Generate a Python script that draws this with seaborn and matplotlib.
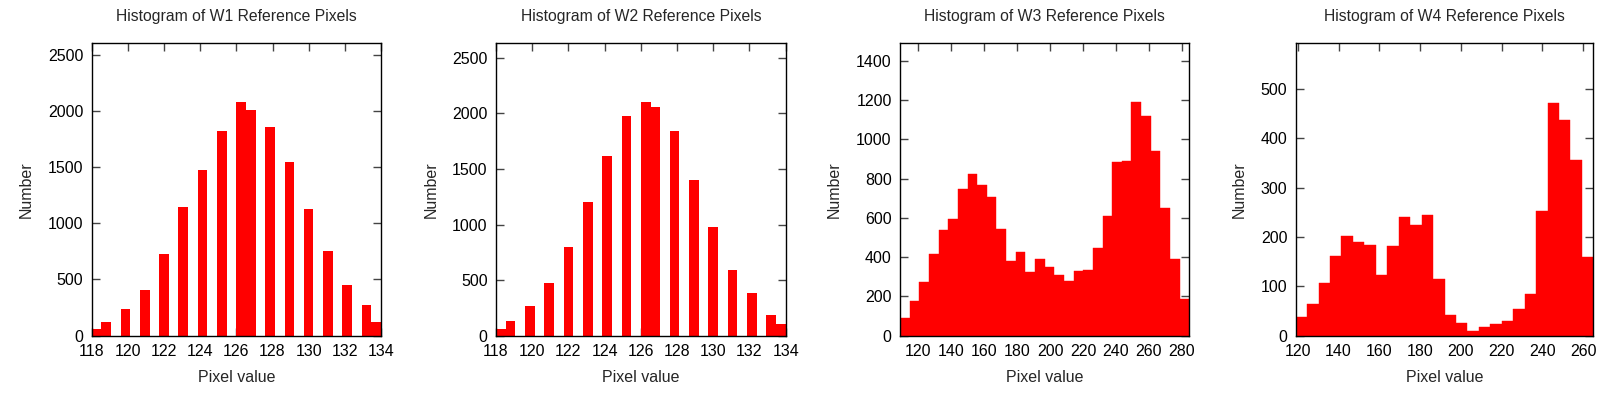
import numpy as np
import pandas as pd
import matplotlib
matplotlib.use("Agg")
import matplotlib.pyplot as plt
import seaborn as sns

# ---------------- data ----------------
# W1 / W2: integer pixel values and their counts
w12_pixels = [118, 119, 120, 121, 122, 123, 124, 125, 126, 127, 128, 129, 130, 131, 132, 133, 134]
w1_counts = [60, 120, 235, 405, 725, 1145, 1470, 1820, 2075, 2005, 1855, 1545, 1130, 750, 450, 275, 120]
w2_counts = [60, 130, 265, 475, 800, 1200, 1620, 1980, 2100, 2060, 1840, 1400, 975, 590, 380, 185, 105]
w12_range = (118, 134)
w12_nbins = 30

# W3 / W4: counts per histogram bin over the data range
w3_range = (109, 284.5)
w3_counts = [88, 177, 274, 416, 539, 595, 748, 824, 768, 707, 544, 381, 428, 325, 391,
             350, 309, 279, 330, 335, 447, 610, 887, 892, 1191, 1121, 943, 651, 393, 187]
w4_range = (119, 265)
w4_counts = [38, 64, 107, 161, 202, 189, 183, 123, 181, 241, 224, 244, 115, 42, 26,
             9, 18, 24, 30, 54, 84, 252, 472, 437, 355, 159]

titles = ["Histogram of W1 Reference Pixels", "Histogram of W2 Reference Pixels",
          "Histogram of W3 Reference Pixels", "Histogram of W4 Reference Pixels"]
x_ticks = [list(range(118, 135, 2)), list(range(118, 135, 2)),
           list(range(120, 281, 20)), list(range(120, 261, 20))]
y_ticks = [list(range(0, 2501, 500)), list(range(0, 2501, 500)),
           list(range(0, 1401, 200)), list(range(0, 501, 100))]
y_limits = [2600, 2630, 1490, 592]

# ---------------- style ----------------
sns.set_style("ticks")
plt.rcParams["font.family"] = ["Liberation Sans", "DejaVu Sans"]

fig = plt.figure(figsize=(16.19, 3.99), dpi=100)
W, H = 1619, 399
boxes = [(91.7, 381.0), (496.0, 785.7), (900.0, 1189.3), (1295.7, 1593.3)]
top_px, bot_px = 43.3, 335.7

bar_color = "#ff0000"


def binned_frame(lo, hi, counts):
    edges = np.linspace(lo, hi, len(counts) + 1)
    centers = (edges[:-1] + edges[1:]) / 2
    return pd.DataFrame({"x": centers, "n": counts})


for i in range(4):
    l, r = boxes[i]
    ax = fig.add_axes([l / W, 1 - bot_px / H, (r - l) / W, (bot_px - top_px) / H])
    if i < 2:
        counts = w1_counts if i == 0 else w2_counts
        df = pd.DataFrame({"x": w12_pixels, "n": counts})
        sns.histplot(data=df, x="x", weights="n", bins=w12_nbins, binrange=w12_range,
                     color=bar_color, alpha=1, linewidth=0, ax=ax)
        ax.set_xlim(*w12_range)
    else:
        lo, hi = (w3_range if i == 2 else w4_range)
        counts = w3_counts if i == 2 else w4_counts
        df = binned_frame(lo, hi, counts)
        sns.histplot(data=df, x="x", weights="n", bins=len(counts), binrange=(lo, hi),
                     color=bar_color, alpha=1, edgecolor=bar_color, linewidth=0.3, ax=ax)
        ax.set_xlim(lo, hi)
    ax.set_ylim(0, y_limits[i])
    ax.set_xticks(x_ticks[i])
    ax.set_yticks(y_ticks[i])
    ax.tick_params(axis="both", which="major", direction="in", length=6, width=1,
                   color="#444444", top=True, right=True, labelsize=11.5, pad=6,
                   labelcolor="black")
    ax.minorticks_off()
    for s in ax.spines.values():
        s.set_visible(True)
        s.set_linewidth(1.0)
        s.set_color("black")
    ax.set_xlabel("Pixel value", fontsize=11.5, labelpad=8)
    ax.set_ylabel("Number", fontsize=11.5, labelpad=10)
    ax.set_title(titles[i], fontsize=11.3, pad=16)
    ax.grid(False)

fig.savefig("out.png", dpi=100)
